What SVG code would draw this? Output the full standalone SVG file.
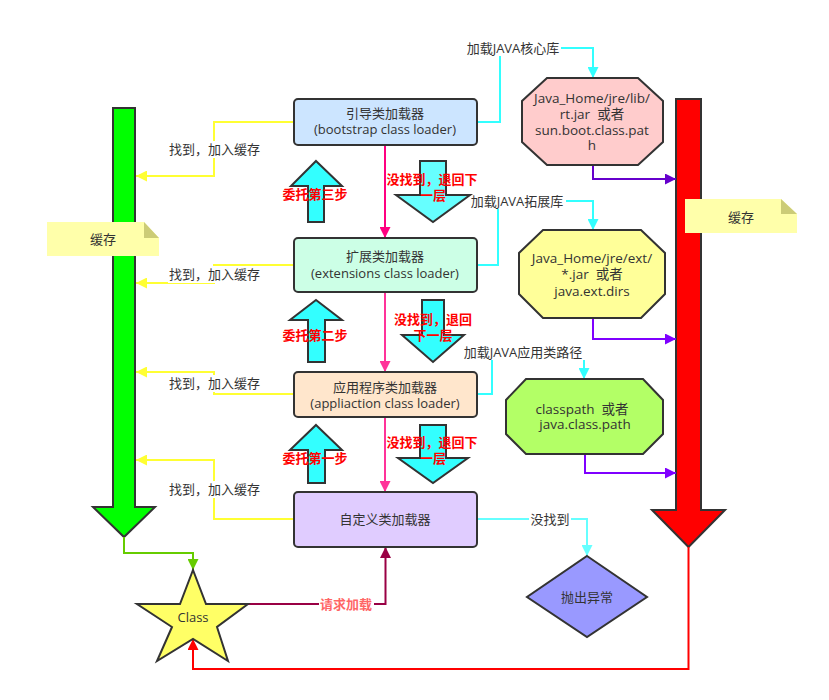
<svg xmlns="http://www.w3.org/2000/svg" width="829" height="700" viewBox="0 0 829 700">
<style>
text{font-family:"Open Sans","Noto Sans CJK SC",sans-serif;font-size:13px;fill:#333;text-anchor:middle}
.box{stroke:#333;stroke-width:2}
.oct{stroke:#333;stroke-width:2}
.ot{font-size:13.5px}
.blk{stroke:#333;stroke-width:2}
.red{fill:#ff0000;font-weight:bold}
.ln{fill:none;stroke-width:2}
.bg{fill:#fff}
</style>
<defs>
<marker id="mY" viewBox="0 0 10 10" refX="10" refY="5" markerUnits="userSpaceOnUse" markerWidth="15" markerHeight="11" orient="auto"><path d="M0,0L10,5L0,10z" fill="#ffff33"/></marker>
<marker id="mC" viewBox="0 0 10 10" refX="10" refY="5" markerUnits="userSpaceOnUse" markerWidth="15" markerHeight="11" orient="auto"><path d="M0,0L10,5L0,10z" fill="#33ffff"/></marker>
<marker id="mC2" viewBox="0 0 10 10" refX="10" refY="5" markerUnits="userSpaceOnUse" markerWidth="15" markerHeight="11" orient="auto"><path d="M0,0L10,5L0,10z" fill="#66ffff"/></marker>
<marker id="mP" viewBox="0 0 10 10" refX="10" refY="5" markerUnits="userSpaceOnUse" markerWidth="15" markerHeight="11" orient="auto"><path d="M0,0L10,5L0,10z" fill="#6600cc"/></marker>
<marker id="mP2" viewBox="0 0 10 10" refX="10" refY="5" markerUnits="userSpaceOnUse" markerWidth="15" markerHeight="11" orient="auto"><path d="M0,0L10,5L0,10z" fill="#7f00ff"/></marker>
<marker id="mK" viewBox="0 0 10 10" refX="10" refY="5" markerUnits="userSpaceOnUse" markerWidth="15" markerHeight="11" orient="auto"><path d="M0,0L10,5L0,10z" fill="#ff0080"/></marker>
<marker id="mK2" viewBox="0 0 10 10" refX="10" refY="5" markerUnits="userSpaceOnUse" markerWidth="15" markerHeight="11" orient="auto"><path d="M0,0L10,5L0,10z" fill="#ff3399"/></marker>
<marker id="mG" viewBox="0 0 10 10" refX="10" refY="5" markerUnits="userSpaceOnUse" markerWidth="15" markerHeight="11" orient="auto"><path d="M0,0L10,5L0,10z" fill="#66cc00"/></marker>
<marker id="mR" viewBox="0 0 10 10" refX="10" refY="5" markerUnits="userSpaceOnUse" markerWidth="15" markerHeight="11" orient="auto"><path d="M0,0L10,5L0,10z" fill="#ff0000"/></marker>
<marker id="mD" viewBox="0 0 10 10" refX="10" refY="5" markerUnits="userSpaceOnUse" markerWidth="15" markerHeight="11" orient="auto"><path d="M0,0L10,5L0,10z" fill="#990044"/></marker>
</defs>
<rect width="829" height="700" fill="#fff"/>

<g id="green-arrow"><polygon class="blk" fill="#00ff00" points="113,108 135,108 135,507 155,507 124,537 93,507 113,507"/></g>
<g id="red-arrow"><polygon class="blk" fill="#ff0000" points="676,99 701,99 701,510 725,510 688.5,547 652,510 676,510"/></g>

<g id="connectors">
<path class="ln" stroke="#ffff33" d="M294,122H214V176H136" marker-end="url(#mY)"/>
<path class="ln" stroke="#ffff33" d="M294,265H214V283H136" marker-end="url(#mY)"/>
<path class="ln" stroke="#ffff33" d="M294,394H214V372H136" marker-end="url(#mY)"/>
<path class="ln" stroke="#ffff33" d="M294,519H214V460H136" marker-end="url(#mY)"/>
<path class="ln" stroke="#33ffff" d="M477,122H500V48H593V78" marker-end="url(#mC)"/>
<path class="ln" stroke="#33ffff" d="M477,265H498V201H593V230" marker-end="url(#mC)"/>
<path class="ln" stroke="#33ffff" d="M477,394H492V352H584V379" marker-end="url(#mC)"/>
<path class="ln" stroke="#66ffff" d="M477,519H587V556" marker-end="url(#mC2)"/>
<path class="ln" stroke="#6600cc" d="M593,165V179H676" marker-end="url(#mP)"/>
<path class="ln" stroke="#7f00ff" d="M593,318V339H676" marker-end="url(#mP2)"/>
<path class="ln" stroke="#7f00ff" d="M585,454V473H676" marker-end="url(#mP2)"/>
<path class="ln" stroke="#ff0080" d="M385,145V238" marker-end="url(#mK)"/>
<path class="ln" stroke="#ff3399" d="M385,292V372" marker-end="url(#mK2)"/>
<path class="ln" stroke="#ff3399" d="M385,417V492" marker-end="url(#mK2)"/>
<path class="ln" stroke="#66cc00" d="M124,537V553H193V570" marker-end="url(#mG)"/>
<path class="ln" stroke="#ff0000" d="M688.5,547V669H193V639" marker-end="url(#mR)"/>
<path class="ln" stroke="#990044" d="M248,604H385.5V547" marker-end="url(#mD)"/>
<rect class="bg" x="168" y="141" width="93" height="17"/><text x="214.5" y="154">找到，加入缓存</text>
<rect class="bg" x="168" y="266" width="93" height="17"/><text x="214.5" y="279">找到，加入缓存</text>
<rect class="bg" x="168" y="375" width="93" height="17"/><text x="214.5" y="388">找到，加入缓存</text>
<rect class="bg" x="168" y="481" width="93" height="17"/><text x="214.5" y="494">找到，加入缓存</text>
<rect class="bg" x="465" y="39" width="96" height="17"/><text x="513" y="53">加载JAVA核心库</text>
<rect class="bg" x="469" y="192" width="97" height="17"/><text x="517" y="206">加载JAVA拓展库</text>
<rect class="bg" x="462" y="343" width="123" height="17"/><text x="523" y="357">加载JAVA应用类路径</text>
<rect class="bg" x="529" y="510" width="42" height="17"/><text x="550" y="524">没找到</text>
<rect class="bg" x="319" y="595" width="55" height="17"/><text x="346" y="609" style="fill:#ff6666;font-weight:bold">请求加载</text>
</g>

<g id="note-left"><path d="M47,222H144L159,238V256H47Z" fill="#ffffaa"/><path d="M144,222V238H159Z" fill="#cccc77"/><text x="103" y="244">缓存</text></g>
<g id="note-right"><path d="M685,199H781L797,214V233H685Z" fill="#ffffaa"/><path d="M781,199V214H797Z" fill="#cccc77"/><text x="741" y="222">缓存</text></g>

<g id="bootstrap"><rect class="box" x="294" y="99" width="183" height="46" rx="4" fill="#cce5ff"/><text x="385" y="118">引导类加载器</text><text x="385" y="134">(bootstrap class loader)</text></g>
<g id="extensions"><rect class="box" x="294" y="238" width="183" height="54" rx="4" fill="#ccffe6"/><text x="385" y="261">扩展类加载器</text><text x="385" y="278">(extensions class loader)</text></g>
<g id="application"><rect class="box" x="294" y="372" width="183" height="45" rx="4" fill="#ffe6cc"/><text x="385" y="392">应用程序类加载器</text><text x="385" y="408">(appliaction class loader)</text></g>
<g id="custom"><rect class="box" x="294" y="492" width="183" height="55" rx="4" fill="#e0ccff"/><text x="385" y="524">自定义类加载器</text></g>

<g id="lib-oct"><polygon class="oct" fill="#ffcccc" points="547,78 638,78 663,101 663,142 638,165 547,165 522,142 522,101"/><text class="ot" x="592" y="103">Java_Home/jre/lib/</text><text class="ot" x="592" y="119">rt.jar&#160;&#160;或者</text><text class="ot" x="592" y="135">sun.boot.class.pat</text><text class="ot" x="592" y="150">h</text></g>
<g id="ext-oct"><polygon class="oct" fill="#ffff99" points="543,230 641,230 665,253 665,294 641,318 543,318 519,294 519,253"/><text class="ot" x="592" y="263">Java_Home/jre/ext/</text><text class="ot" x="592" y="279">*.jar&#160;&#160;或者</text><text class="ot" x="592" y="296">java.ext.dirs</text></g>
<g id="cp-oct"><polygon class="oct" fill="#b3ff66" points="526,379 643,379 663,400 663,434 643,454 526,454 506,434 506,400"/><text class="ot" x="582" y="414">classpath&#160;&#160;或者</text><text class="ot" x="585" y="429">java.class.path</text></g>

<g id="exception"><polygon class="oct" fill="#9999ff" points="587,556 647,597 587,637 527,597"/><text x="587" y="602">抛出异常</text></g>
<g id="class-star"><polygon class="oct" fill="#ffff66" points="193,570 206,604 248,604 217,627 228,661 193,639 157,661 172,627 137,604 180,604"/><text x="193" y="622">Class</text></g>

<g id="delegate3"><polygon class="blk" fill="#33ffff" points="316,161 342,186 324,186 324,222 308,222 308,186 291,186"/><text class="red" x="315" y="199">委托第三步</text></g>
<g id="back1"><polygon class="blk" fill="#66ffff" points="420,161 446,161 446,195 470,195 433,222 396,195 420,195"/><text class="red" x="432" y="184">没找到，退回下</text><text class="red" x="433" y="200">一层</text></g>
<g id="delegate2"><polygon class="blk" fill="#33ffff" points="316,300 342,320 325,320 325,362 308,362 308,320 290,320"/><text class="red" x="315" y="340">委托第二步</text></g>
<g id="back2"><polygon class="blk" fill="#33ffff" points="422,300 444,300 444,335 464,335 433,362 402,335 422,335"/><text class="red" x="433" y="324">没找到，退回</text><text class="red" x="433" y="340">下一层</text></g>
<g id="delegate1"><polygon class="blk" fill="#33ffff" points="316,425 342,450 325,450 325,483 308,483 308,450 290,450"/><text class="red" x="315" y="463">委托第一步</text></g>
<g id="back3"><polygon class="blk" fill="#33ffff" points="420,425 446,425 446,458 468,458 433,483 398,458 420,458"/><text class="red" x="432" y="447">没找到，退回下</text><text class="red" x="433" y="463">一层</text></g>
</svg>
